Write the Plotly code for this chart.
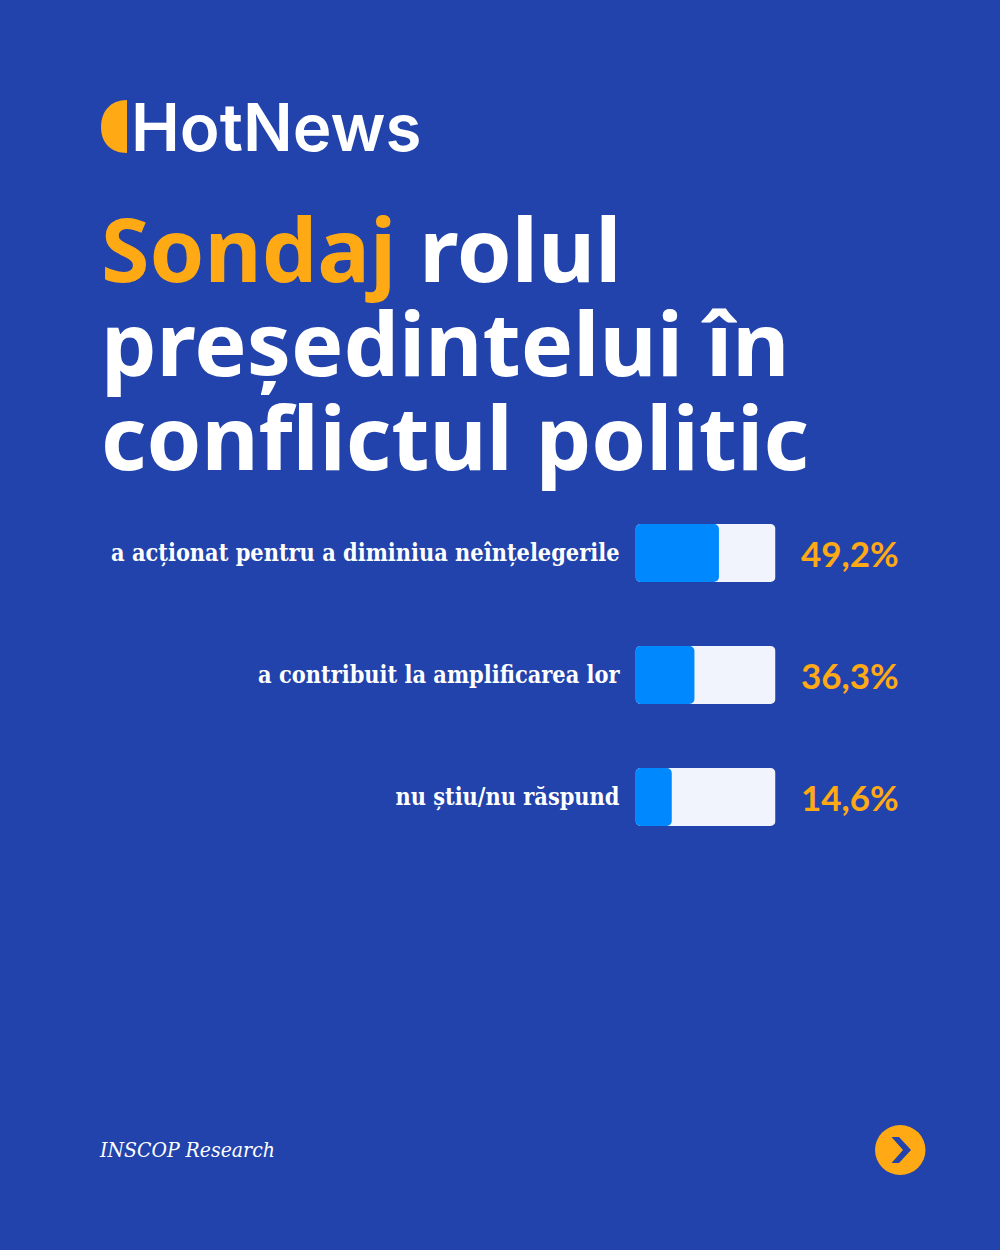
import plotly.graph_objects as go

# values
categories = ["a acționat pentru a diminiua neînțelegerile",
              "a contribuit la amplificarea lor",
              "nu știu/nu răspund"]
value_labels = ["49,2%", "36,3%", "14,6%"]
# the drawn bars are not to scale with the labels, so these are the lengths
# as a share of the pale track
fill_share = [59.6, 42.1, 25.9]
track = [100, 100, 100]
bar_base = [0, 0, 0]
title_lines = ["<span style='color:#FFA914'>Sondaj</span> rolul",
               "președintelui în",
               "conflictul politic"]

BG = "#2143AB"
ORANGE = "#FFA914"


def px(x):
    return x / 1000


def py(y):
    return 1 - y / 1250


fig = go.Figure()
# explicit base so all four corners get rounded
fig.add_trace(go.Bar(y=categories, x=track, base=bar_base, orientation="h", width=0.475,
                     marker=dict(color="#F1F4FD", line=dict(width=0)), hoverinfo="skip"))
# fill sits on its own overlaying axes, otherwise plotly only rounds the longest bar
fig.add_trace(go.Bar(y=categories, x=fill_share, base=bar_base, orientation="h", width=0.475,
                     xaxis="x2", yaxis="y2",
                     marker=dict(color="#0088FF", line=dict(width=0)), hoverinfo="skip"))

annotations = []
# title, one annotation per line
for line, base_y, in zip(title_lines, [248, 342, 436]):
    annotations.append(dict(text=line, x=px(99), y=py(base_y), xref="paper", yref="paper",
                            xanchor="left", yanchor="middle", showarrow=False,
                            font=dict(family="Noto Sans", size=88, color="white", weight=700)))
# numbers next to the bars
for cat, lab in zip(categories, value_labels):
    annotations.append(dict(text=lab, x=px(901), y=cat, xref="paper", yref="y",
                            xanchor="right", yanchor="middle", showarrow=False,
                            font=dict(family="Lato", size=35, color=ORANGE, weight=700)))
# logo text
annotations.append(dict(text="HotNews", x=px(129), y=py(127), xref="paper", yref="paper",
                        xanchor="left", yanchor="middle", showarrow=False,
                        font=dict(family="Inter", size=65.5, color="white", weight=600)))
# source
annotations.append(dict(text="<i>INSCOP Research</i>", x=px(97), y=py(1150), xref="paper", yref="paper",
                        xanchor="left", yanchor="middle", showarrow=False,
                        font=dict(family="DejaVu Serif Condensed", size=21, color="white")))

shapes = [
    # logo half disc
    dict(type="path", xref="paper", yref="paper", line=dict(width=0), fillcolor=ORANGE,
         path=f"M {px(127)} {py(100)} C {px(110)} {py(100)} {px(101)} {py(112)} {px(101)} {py(127)} "
              f"C {px(101)} {py(142)} {px(110)} {py(153)} {px(127)} {py(153)} Z"),
    # next button
    dict(type="circle", xref="paper", yref="paper", line=dict(width=0), fillcolor=ORANGE,
         x0=px(875), x1=px(925.5), y0=py(1175), y1=py(1125)),
    dict(type="path", xref="paper", yref="paper", line=dict(width=0), fillcolor=BG,
         path=f"M {px(891.5)} {py(1137)} L {px(899)} {py(1137)} L {px(911)} {py(1150)} "
              f"L {px(899)} {py(1163)} L {px(891.5)} {py(1163)} L {px(903)} {py(1150)} Z"),
]

x_domain = [px(635.5), px(775.5)]
y_domain = [py(858), py(492)]

fig.update_layout(
    width=1000, height=1250,
    margin=dict(l=0, r=0, t=0, b=0),
    paper_bgcolor=BG, plot_bgcolor=BG,
    barmode="overlay", barcornerradius=5,
    showlegend=False,
    annotations=annotations, shapes=shapes,
    xaxis=dict(domain=x_domain, range=[0, 100], visible=False, fixedrange=True),
    yaxis=dict(domain=y_domain, autorange="reversed", showline=False, showgrid=False,
               zeroline=False, ticks="", ticklabelstandoff=15, fixedrange=True,
               tickfont=dict(family="DejaVu Serif Condensed", size=23.3, color="white", weight=700)),
    xaxis2=dict(domain=x_domain, range=[0, 100], visible=False, fixedrange=True,
                overlaying="x", anchor="y2"),
    yaxis2=dict(domain=y_domain, autorange="reversed", visible=False, fixedrange=True,
                overlaying="y", anchor="x2"),
)

# page margin would shift the picture by 8px
fig.write_html("out.html", config={"displayModeBar": False},
               post_script="document.body.style.margin='0';")
